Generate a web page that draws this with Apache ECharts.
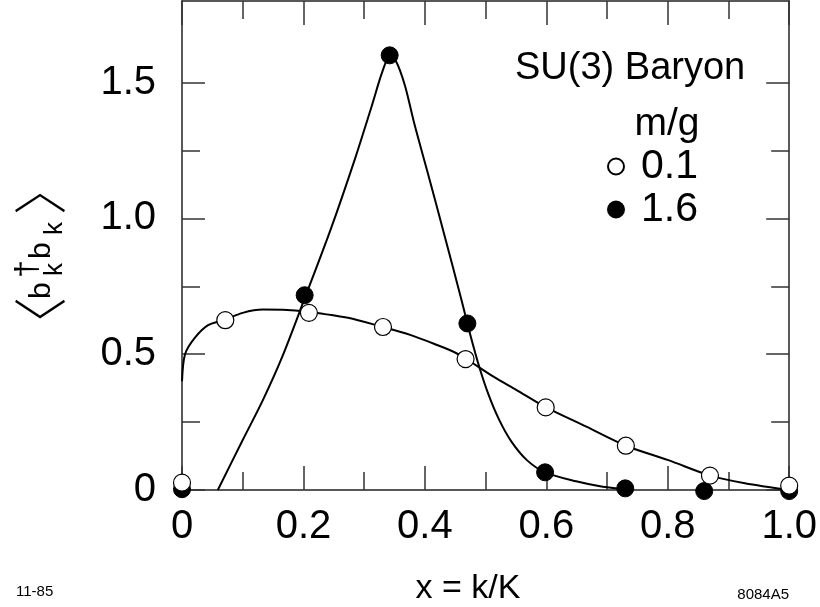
<!DOCTYPE html>
<html>
<head>
<meta charset="utf-8">
<script src="https://cdn.jsdelivr.net/npm/echarts@6/dist/echarts.min.js"></script>
<style>
html,body{margin:0;padding:0;background:#fff;}
#c{width:820px;height:607px;}
</style>
</head>
<body>
<div id="c"></div>
<script>
// ---- data ----
const xTicks = [0, 0.2, 0.4, 0.6, 0.8, 1.0];
const yMajorTicks = [0, 0.5, 1.0, 1.5];
const yMinorTicks = [0.25, 0.75, 1.25];

// m/g = 0.1 (open circles)
const xOpen = [0, 0.0713, 0.209, 0.331, 0.467, 0.599, 0.731, 0.8695, 1.0];
const yOpen = [0.027, 0.625, 0.652, 0.600, 0.482, 0.304, 0.163, 0.053, 0.016];
// m/g = 1.6 (filled circles)
const xFilled = [0, 0.202, 0.342, 0.470, 0.598, 0.730, 0.860, 1.0];
const yFilled = [0.003, 0.717, 1.600, 0.613, 0.065, 0.006, -0.004, -0.004];

// fitted curves
const curveOpenX = [0, 0.005, 0.021, 0.043, 0.071, 0.10, 0.133, 0.173, 0.2, 0.271, 0.331, 0.377, 0.421, 0.448, 0.467, 0.513, 0.551, 0.598, 0.666, 0.731, 0.801, 0.87, 0.927, 1.0];
const curveOpenY = [0.40, 0.50, 0.56, 0.607, 0.627, 0.652, 0.664, 0.663, 0.658, 0.635, 0.600, 0.570, 0.533, 0.508, 0.484, 0.417, 0.368, 0.306, 0.233, 0.163, 0.110, 0.053, 0.025, 0.0];
const curveFilledX = [0.059, 0.10, 0.133, 0.165, 0.202, 0.245, 0.285, 0.312, 0.330, 0.342, 0.352, 0.367, 0.383, 0.405, 0.432, 0.459, 0.475, 0.490, 0.505, 0.522, 0.542, 0.568, 0.598, 0.649, 0.693, 0.735];
const curveFilledY = [0, 0.184, 0.330, 0.490, 0.705, 0.960, 1.220, 1.410, 1.540, 1.595, 1.580, 1.490, 1.345, 1.165, 0.940, 0.710, 0.570, 0.450, 0.350, 0.260, 0.180, 0.110, 0.065, 0.032, 0.012, 0.002];

const seriesNames = ['0.1', '1.6'];

// ---- helpers ----
const zip = (xs, ys) => xs.map((x, i) => [x, ys[i]]);
const FONT = "'Liberation Sans', Arial, Helvetica, sans-serif";
const CJK = "'Noto Sans CJK JP', 'Noto Sans CJK SC', sans-serif";
const axisColor = '#222';
const tickColor = '#333';
const fmt = v => (v === 0 ? '0' : v.toFixed(1));

function xAxisDef(pos, showLabel) {
  return {
    type: 'value', min: 0, max: 1, interval: 0.2, position: pos,
    axisLine: { show: true, onZero: false, lineStyle: { color: axisColor, width: 1.5 } },
    axisTick: { show: true, inside: true, length: 24, lineStyle: { color: tickColor, width: 1.5 } },
    minorTick: { show: true, splitNumber: 2, length: 18, lineStyle: { color: tickColor, width: 1.5 } },
    axisLabel: { show: showLabel, fontSize: 40, fontFamily: FONT, color: '#000', margin: 17, formatter: fmt },
    splitLine: { show: false }, minorSplitLine: { show: false }
  };
}
function yAxisDef(pos, major, showLabel) {
  const vals = major ? yMajorTicks : yMinorTicks;
  return {
    type: 'value', min: 0, max: 1.8, position: pos,
    axisLine: { show: major, onZero: false, lineStyle: { color: axisColor, width: 1.5 } },
    axisTick: { show: true, inside: true, length: major ? 23 : 18, customValues: vals, lineStyle: { color: tickColor, width: 1.5 } },
    axisLabel: { show: showLabel, customValues: vals, fontSize: 40, fontFamily: FONT, color: '#000', margin: 26, formatter: fmt },
    splitLine: { show: false }
  };
}
function txt(text, x, y, font, align) {
  return { type: 'text', style: { text: text, x: x, y: y, font: font, fill: '#000',
    align: align, verticalAlign: 'middle', textAlign: align, textVerticalAlign: 'middle' } };
}

const chart = echarts.init(document.getElementById('c'), null, { renderer: 'canvas' });
chart.setOption({
  animation: false,
  backgroundColor: '#fff',
  grid: { left: 182, right: 25, top: 1, bottom: 117, containLabel: false },
  xAxis: [xAxisDef('bottom', true), xAxisDef('top', false)],
  yAxis: [yAxisDef('left', true, true), yAxisDef('left', false, false), yAxisDef('right', true, false), yAxisDef('right', false, false)],
  legend: {
    data: seriesNames, orient: 'vertical', left: 607, top: 146, padding: 0, itemGap: 2,
    itemWidth: 16, itemHeight: 16, icon: 'circle', selectedMode: false,
    textStyle: { fontSize: 41, fontFamily: FONT, color: '#000', padding: [0, 0, 0, 12] }
  },
  series: [
    { name: 'curve-0.1', type: 'line', data: zip(curveOpenX, curveOpenY), smooth: 0.3, showSymbol: false, symbol: 'none',
      lineStyle: { color: '#000', width: 2 }, z: 2, clip: false, silent: true },
    { name: 'curve-1.6', type: 'line', data: zip(curveFilledX, curveFilledY), smooth: 0.3, showSymbol: false, symbol: 'none',
      lineStyle: { color: '#000', width: 2 }, z: 2, clip: false, silent: true },
    { name: '1.6', type: 'scatter', data: zip(xFilled, yFilled), symbol: 'circle', symbolSize: 17,
      itemStyle: { color: '#000', borderColor: '#000', borderWidth: 1, opacity: 1 }, z: 3, clip: false },
    { name: '0.1', type: 'scatter', data: zip(xOpen, yOpen), symbol: 'circle', symbolSize: 17,
      itemStyle: { color: '#fff', borderColor: '#000', borderWidth: 1.2, opacity: 1 }, z: 4, clip: false }
  ],
  graphic: [
    txt('SU(3) Baryon', 515, 68.5, '38px ' + FONT, 'left'),
    txt('m/g', 634.5, 124.5, '39px ' + FONT, 'left'),
    txt('x = k/K', 468, 589, '34px ' + FONT, 'center'),
    txt('11-85', 16, 592, '15px ' + FONT, 'left'),
    txt('8084A5', 789, 595, '15px ' + FONT, 'right'),
    { type: 'group', x: 44, y: 256, rotation: Math.PI / 2, children: [
      txt('〈', -68, -3.5, '300 54px ' + CJK, 'center'),
      txt('b', -43, -2.4, '30px ' + FONT, 'left'),
      txt('k', -20, 11, '26px ' + FONT, 'left'),
      txt('†', -22, -16, '32px ' + FONT, 'left'),
      txt('b', -3, -2.4, '30px ' + FONT, 'left'),
      txt('k', 21, 11, '26px ' + FONT, 'left'),
      txt('〉', 68, -3.5, '300 54px ' + CJK, 'center')
    ] }
  ]
});
</script>
</body>
</html>
